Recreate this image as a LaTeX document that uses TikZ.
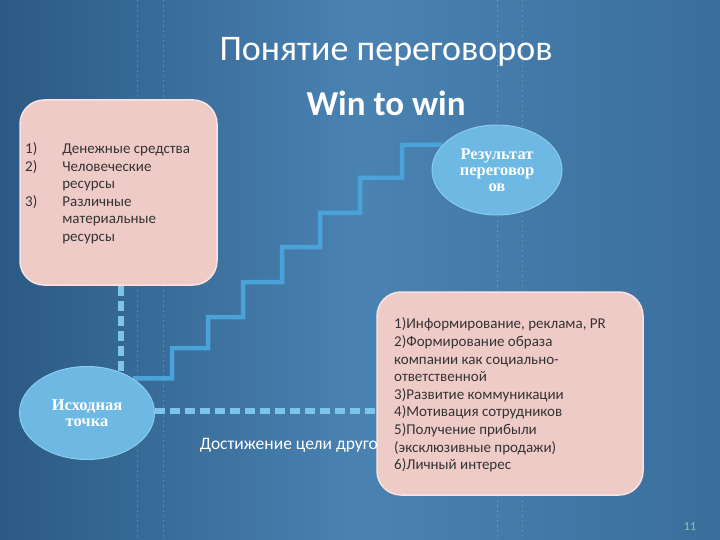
\documentclass[tikz,border=0pt]{standalone}
\usepackage{fontspec}
\setmainfont{Carlito}
\newfontfamily\serifb{Liberation Serif}
\usetikzlibrary{shapes.geometric}
\pgfdeclarelayer{bg}
\pgfdeclarelayer{edges}
\pgfsetlayers{bg,edges,main}
\definecolor{bgdark}{HTML}{2B5A84}
\definecolor{bgmid}{HTML}{4A82B2}
\definecolor{bgright}{HTML}{3A6F9C}
\definecolor{pinkbox}{HTML}{EFCBC8}
\definecolor{pinkedge}{HTML}{F7E3E1}
\definecolor{ellfill}{HTML}{6DB9E3}
\definecolor{elledge}{HTML}{8CCBEE}
\definecolor{stairc}{HTML}{4AA3D8}
\definecolor{dashc}{HTML}{7CC4EA}
\definecolor{txtdark}{HTML}{333333}
\definecolor{pagenum}{HTML}{8FC98F}
\tikzset{
  pinkpanel/.style={rectangle, rounded corners=24pt, fill=pinkbox, draw=pinkedge, line width=1.5pt, inner sep=0pt},
  paneltext/.style={anchor=west, align=left, text=txtdark, font=\fontsize{15}{17.6}\selectfont, inner sep=0pt},
  bubble/.style={ellipse, fill=ellfill, draw=elledge, line width=1pt, inner sep=0pt, text=white, align=center, font=\serifb\bfseries\fontsize{16.5}{16}\selectfont},
  stairline/.style={draw=stairc, line width=4.5pt, line join=miter},
  dashline/.style={draw=dashc, line width=5.5pt, dash pattern=on 10pt off 5pt},
  seam/.style={draw=white, opacity=0.18, line width=0.8pt, dash pattern=on 2pt off 3pt}
}
\begin{document}
\begin{tikzpicture}[x=1pt, y=-1pt]
\useasboundingbox (0,0) rectangle (720,540);
\begin{pgfonlayer}{bg}
  \shade[left color=bgdark, right color=bgright, middle color=bgmid] (0,0) rectangle (720,540);
  \draw[seam] (137,0) -- (137,540);
  \draw[seam] (163,0) -- (163,540);
  \draw[seam] (497,0) -- (497,540);
  \draw[seam] (522,0) -- (522,540);
\end{pgfonlayer}

\node[text=white, font=\fontsize{36}{42}\selectfont, inner sep=0pt] (title) at (386,52) {Понятие переговоров};
\node[text=white, font=\bfseries\fontsize{35}{40}\selectfont, inner sep=0pt] (sub) at (386,103) {Win to win};

\node[pinkpanel, minimum width=197pt, minimum height=185pt] (resbox) at (118.5,192.5) {};
\node[paneltext] (restext) at (25,194) {%
\begin{tabular}{@{}l@{\hspace{25pt}}l@{}}
1) & Денежные средства\\
2) & Человеческие\\
   & ресурсы\\
3) & Различные\\
   & материальные\\
   & ресурсы
\end{tabular}};

\node[bubble, minimum width=135pt, minimum height=93pt] (start) at (87,413) {Исходная\\точка};
\node[bubble, minimum width=130pt, minimum height=90pt] (result) at (497,170) {Результат\\переговор\\ов};

\node[pinkpanel, minimum width=266pt, minimum height=203pt] (goals) at (510,393.5) {};
\node[paneltext] (goaltext) at (394,395) {%
1)Информирование, реклама, PR\\
2)Формирование образа\\
компании как социально-\\
ответственной\\
3)Развитие коммуникации\\
4)Мотивация сотрудников\\
5)Получение прибыли\\
(эксклюзивные продажи)\\
6)Личный интерес};

\node[anchor=east, text=white, font=\fontsize{17.5}{20}\selectfont, inner sep=0pt] (other) at (378,445) {Достижение цели друго};

\node[text=pagenum, font=\fontsize{12}{14}\selectfont, inner sep=0pt] (page) at (690,527) {11};

\begin{pgfonlayer}{edges}
  \draw[stairline] (start.37) -| (172,348) -| (208,317) -| (243,282) -| (282,247) -| (320,213) -| (360,178) -| (402,145) -- (result.155);
  \draw[dashline] (resbox.south -| 121,0) -- (121,400);
  \draw[dashline] (start.east |- 0,411) -- (goals.west |- 0,411);
\end{pgfonlayer}
\end{tikzpicture}
\end{document}
